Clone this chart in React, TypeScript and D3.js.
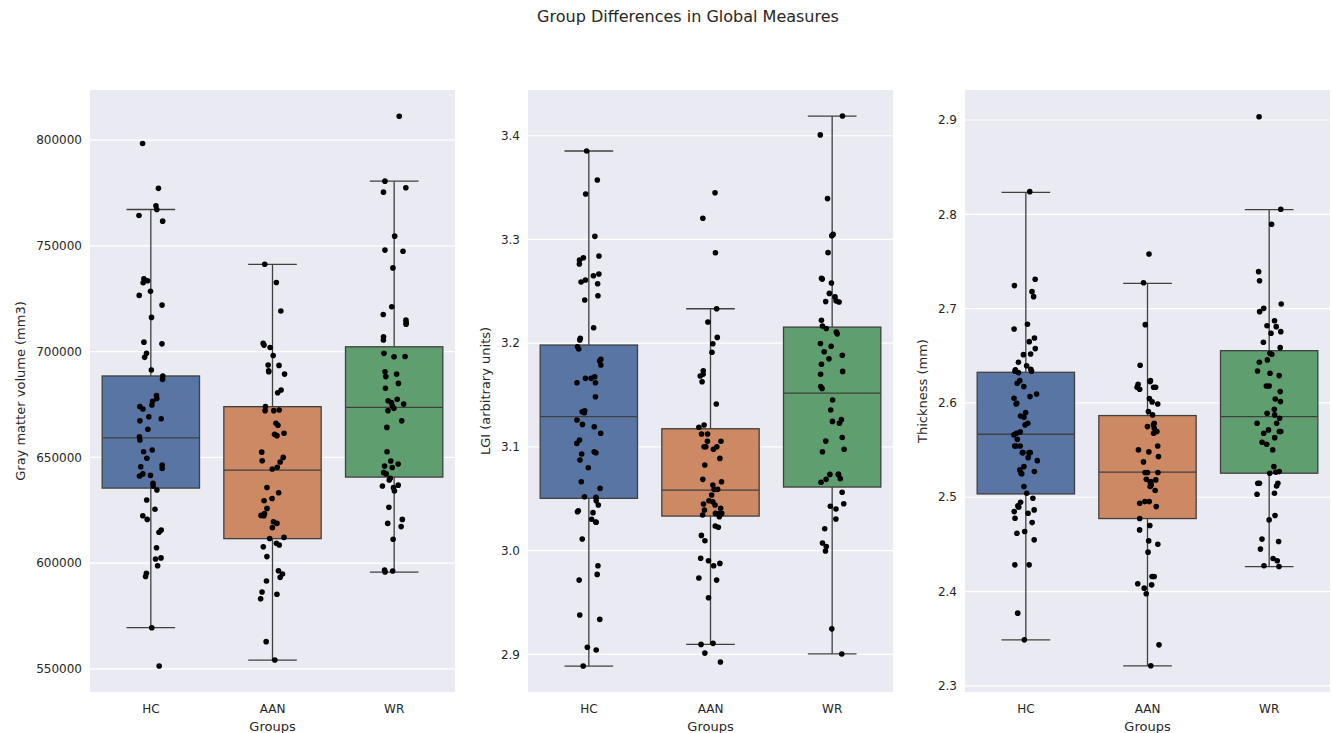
import React from "react";
import * as d3 from "d3";

const groups = ["HC", "AAN", "WR"];

// Gray matter volume (mm3)
const hcGMV = [798400, 777200, 769000, 767200, 764400, 761700, 734500, 733500, 732600, 728500, 726600, 722000, 716200, 704500, 703700, 699200, 697300, 691300, 688500, 686900, 679300, 677900, 676500, 674800, 674000, 672900, 669200, 668300, 667300, 663300, 659800, 658200, 653500, 652700, 649600, 646400, 645600, 644800, 642200, 641500, 641200, 637800, 636500, 634600, 629900, 625500, 622400, 620700, 615700, 614600, 607300, 602500, 602000, 598800, 595200, 593700, 569500, 551400];
const aanGMV = [741300, 732700, 719200, 703900, 703100, 702000, 698200, 693700, 693500, 691000, 690500, 689400, 681900, 680600, 674000, 672400, 672100, 672100, 666100, 665200, 661400, 660900, 660300, 652500, 650000, 648400, 647800, 645300, 644500, 635800, 633300, 630600, 629500, 625900, 623500, 622600, 622400, 619600, 618800, 616800, 612200, 611700, 609400, 608600, 607800, 603100, 596400, 594900, 593300, 591600, 586400, 585300, 583200, 562900, 554200];
const wrGMV = [811300, 780600, 777500, 775400, 754600, 748000, 747500, 739600, 721200, 717600, 714900, 713700, 713000, 707000, 705500, 699200, 697700, 697600, 690500, 689400, 688200, 685000, 682700, 677500, 676800, 675900, 675200, 674300, 673200, 672100, 667300, 664200, 652700, 648300, 646900, 645900, 645200, 642800, 642200, 640100, 639300, 636900, 636500, 635700, 634100, 626400, 620700, 618800, 617300, 611300, 596800, 596300, 595800];
// box stats: [lower whisker, Q1, median, Q3, upper whisker]
const hcGMVBox = [569500, 635500, 659200, 688500, 767200];
const aanGMVBox = [554200, 611600, 644000, 674000, 741300];
const wrGMVBox = [595800, 640700, 673700, 702300, 780600];

// LGI (arbitrary units)
const hcLGI = [3.3853, 3.3573, 3.3438, 3.3030, 3.2840, 3.2824, 3.2802, 3.2763, 3.2667, 3.2650, 3.2609, 3.2590, 3.2573, 3.2457, 3.2416, 3.2149, 3.2047, 3.2030, 3.1966, 3.1944, 3.1844, 3.1828, 3.1789, 3.1676, 3.1661, 3.1661, 3.1619, 3.1619, 3.1484, 3.1349, 3.1339, 3.1330, 3.1259, 3.1217, 3.1194, 3.1131, 3.1066, 3.1034, 3.0953, 3.0944, 3.0931, 3.0873, 3.0799, 3.0664, 3.0600, 3.0519, 3.0514, 3.0481, 3.0440, 3.0385, 3.0375, 3.0366, 3.0302, 3.0276, 3.0273, 3.0112, 2.9854, 2.9771, 2.9716, 2.9379, 2.9337, 2.9068, 2.9042, 2.8887];
const aanLGI = [3.3450, 3.3204, 3.2872, 3.2332, 3.2204, 3.2056, 3.1995, 3.1912, 3.1734, 3.1700, 3.1683, 3.1628, 3.1413, 3.1211, 3.1189, 3.1124, 3.1124, 3.1054, 3.1054, 3.1002, 3.1002, 3.1002, 3.0977, 3.0889, 3.0825, 3.0687, 3.0664, 3.0632, 3.0591, 3.0591, 3.0536, 3.0481, 3.0471, 3.0449, 3.0440, 3.0408, 3.0391, 3.0359, 3.0359, 3.0359, 3.0343, 3.0327, 3.0237, 3.0225, 3.0147, 3.0095, 2.9926, 2.9903, 2.9877, 2.9854, 2.9736, 2.9716, 2.9546, 2.9106, 2.9096, 2.9012, 2.8926];
const wrLGI = [3.4190, 3.4008, 3.3394, 3.3049, 3.3035, 3.2873, 3.2625, 3.2618, 3.2580, 3.2480, 3.2446, 3.2408, 3.2397, 3.2401, 3.2221, 3.2166, 3.2142, 3.2108, 3.2090, 3.1997, 3.1970, 3.1918, 3.1883, 3.1849, 3.1797, 3.1728, 3.1700, 3.1583, 3.1563, 3.1452, 3.1356, 3.1263, 3.1246, 3.1228, 3.1090, 3.1056, 3.0977, 3.0953, 3.0735, 3.0735, 3.0735, 3.0694, 3.0687, 3.0659, 3.0563, 3.0452, 3.0428, 3.0401, 3.0304, 3.0211, 3.0073, 3.0039, 2.9997, 2.9246, 2.9004];
const hcLGIBox = [2.8887, 3.0504, 3.1291, 3.1982, 3.3853];
const aanLGIBox = [2.9096, 3.0333, 3.0584, 3.1175, 3.2332];
const wrLGIBox = [2.9004, 3.0613, 3.1519, 3.2155, 3.4190];

// Thickness (mm)
const hcCT = [2.8240, 2.7311, 2.7244, 2.7180, 2.7127, 2.6834, 2.6784, 2.6689, 2.6650, 2.6576, 2.6519, 2.6512, 2.6431, 2.6395, 2.6357, 2.6350, 2.6336, 2.6336, 2.6336, 2.6321, 2.6236, 2.6208, 2.6173, 2.6095, 2.6067, 2.6050, 2.5997, 2.5989, 2.5897, 2.5862, 2.5848, 2.5785, 2.5767, 2.5693, 2.5679, 2.5661, 2.5615, 2.5544, 2.5544, 2.5544, 2.5473, 2.5473, 2.5473, 2.5473, 2.5420, 2.5388, 2.5325, 2.5290, 2.5272, 2.5255, 2.5248, 2.5113, 2.5043, 2.4990, 2.4947, 2.4908, 2.4895, 2.4866, 2.4848, 2.4831, 2.4778, 2.4731, 2.4636, 2.4619, 2.4548, 2.4283, 2.4283, 2.3771, 2.3488];
const aanCT = [2.7579, 2.7275, 2.6830, 2.6400, 2.6236, 2.6226, 2.6198, 2.6166, 2.6166, 2.6166, 2.6145, 2.6046, 2.6011, 2.5989, 2.5908, 2.5873, 2.5785, 2.5767, 2.5749, 2.5732, 2.5696, 2.5679, 2.5544, 2.5502, 2.5481, 2.5431, 2.5375, 2.5262, 2.5262, 2.5262, 2.5191, 2.5184, 2.5166, 2.5156, 2.5131, 2.5113, 2.5071, 2.4954, 2.4954, 2.4937, 2.4901, 2.4774, 2.4700, 2.4654, 2.4537, 2.4502, 2.4418, 2.4159, 2.4159, 2.4082, 2.4071, 2.4036, 2.3976, 2.3435, 2.3213];
const wrCT = [2.9034, 2.8053, 2.7894, 2.7392, 2.7296, 2.7049, 2.7003, 2.6968, 2.6872, 2.6819, 2.6809, 2.6756, 2.6739, 2.6643, 2.6586, 2.6527, 2.6516, 2.6456, 2.6431, 2.6339, 2.6315, 2.6290, 2.6180, 2.6180, 2.6120, 2.6042, 2.6014, 2.5933, 2.5891, 2.5873, 2.5838, 2.5785, 2.5785, 2.5714, 2.5696, 2.5696, 2.5679, 2.5632, 2.5583, 2.5562, 2.5502, 2.5325, 2.5272, 2.5265, 2.5255, 2.5149, 2.5149, 2.5149, 2.5120, 2.5043, 2.5032, 2.4806, 2.4760, 2.4556, 2.4531, 2.4450, 2.4350, 2.4326, 2.4273, 2.4265];
const hcCTBox = [2.3488, 2.5035, 2.5668, 2.6325, 2.8233];
const aanCTBox = [2.3213, 2.4774, 2.5266, 2.5866, 2.7268];
const wrCTBox = [2.4265, 2.5255, 2.5855, 2.6554, 2.8050];

const gmvTicks = [550000, 600000, 650000, 700000, 750000, 800000];
const lgiTicks = [2.9, 3.0, 3.1, 3.2, 3.3, 3.4];
const ctTicks = [2.3, 2.4, 2.5, 2.6, 2.7, 2.8, 2.9];

const title = "Group Differences in Global Measures";

const panels = [
  {
    ylabel: "Gray matter volume (mm3)",
    domain: [539100, 823700],
    ticks: gmvTicks,
    fmt: (v: number) => String(v),
    series: [hcGMV, aanGMV, wrGMV],
    boxes: [hcGMVBox, aanGMVBox, wrGMVBox],
    left: 90,
    ylabelOffset: 70,
  },
  {
    ylabel: "LGI (arbitrary units)",
    domain: [2.8637, 3.4441],
    ticks: lgiTicks,
    fmt: (v: number) => v.toFixed(1),
    series: [hcLGI, aanLGI, wrLGI],
    boxes: [hcLGIBox, aanLGIBox, wrLGIBox],
    left: 528,
    ylabelOffset: 43,
  },
  {
    ylabel: "Thickness (mm)",
    domain: [2.2935, 2.9318],
    ticks: ctTicks,
    fmt: (v: number) => v.toFixed(1),
    series: [hcCT, aanCT, wrCT],
    boxes: [hcCTBox, aanCTBox, wrCTBox],
    left: 965,
    ylabelOffset: 43,
  },
];

const colors = ["#5875A4", "#CC8963", "#5F9E6E"];
const W = 1331;
const H = 733;
const top = 90;
const bottom = 692;
const pw = 365;
const font = "DejaVu Sans, sans-serif";
const textColor = "#262626";
const lineColor = "#404040";

export default function App() {
  return (
    <svg width={W} height={H} style={{ position: "absolute", left: 0, top: 0, background: "#fff" }} fontFamily={font}>
      <text x={688} y={22} textAnchor="middle" fontSize={16} fill={textColor}>{title}</text>
      {panels.map((p, pi) => {
        const y = d3.scaleLinear().domain(p.domain).range([bottom, top]);
        const x = d3.scalePoint().domain(groups).range([p.left, p.left + pw]).padding(0.5);
        const step = x.step();
        const bw = step * 0.8;
        const capW = bw * 0.5;
        const rng = d3.randomLcg(0.137 + pi * 0.21);
        const jit = d3.randomUniform.source(rng)(-0.1, 0.1);
        return (
          <g key={pi}>
            <rect x={p.left} y={top} width={pw} height={bottom - top} fill="#EAEAF2" />
            {p.ticks.map((t) => (
              <g key={t}>
                <line x1={p.left} x2={p.left + pw} y1={y(t)} y2={y(t)} stroke="#fff" strokeWidth={1.2} />
                <text x={p.left - 8} y={y(t)} dy="0.35em" textAnchor="end" fontSize={12} fill={textColor}>{p.fmt(t)}</text>
              </g>
            ))}
            {groups.map((g, gi) => {
              const cx = x(g) as number;
              const b = p.boxes[gi];
              return (
                <g key={g}>
                  <line x1={cx} x2={cx} y1={y(b[0])} y2={y(b[1])} stroke={lineColor} strokeWidth={1.3} />
                  <line x1={cx} x2={cx} y1={y(b[3])} y2={y(b[4])} stroke={lineColor} strokeWidth={1.3} />
                  <line x1={cx - capW / 2} x2={cx + capW / 2} y1={y(b[0])} y2={y(b[0])} stroke={lineColor} strokeWidth={1.3} />
                  <line x1={cx - capW / 2} x2={cx + capW / 2} y1={y(b[4])} y2={y(b[4])} stroke={lineColor} strokeWidth={1.3} />
                  <rect x={cx - bw / 2} y={y(b[3])} width={bw} height={y(b[1]) - y(b[3])} fill={colors[gi]} stroke={lineColor} strokeWidth={1.3} />
                  <line x1={cx - bw / 2} x2={cx + bw / 2} y1={y(b[2])} y2={y(b[2])} stroke={lineColor} strokeWidth={1.3} />
                  <text x={cx} y={713} textAnchor="middle" fontSize={12} fill={textColor}>{g}</text>
                </g>
              );
            })}
            {groups.map((g, gi) => {
              const cx = x(g) as number;
              return p.series[gi].map((v, i) => (
                <circle key={g + i} cx={cx + jit() * step} cy={y(v)} r={2.8} fill="#000" />
              ));
            })}
            <text x={p.left + pw / 2} y={731} textAnchor="middle" fontSize={13} fill={textColor}>Groups</text>
            <text transform={`translate(${p.left - p.ylabelOffset},${(top + bottom) / 2}) rotate(-90)`} textAnchor="middle" dy="0.35em" fontSize={13} fill={textColor}>{p.ylabel}</text>
          </g>
        );
      })}
    </svg>
  );
}
